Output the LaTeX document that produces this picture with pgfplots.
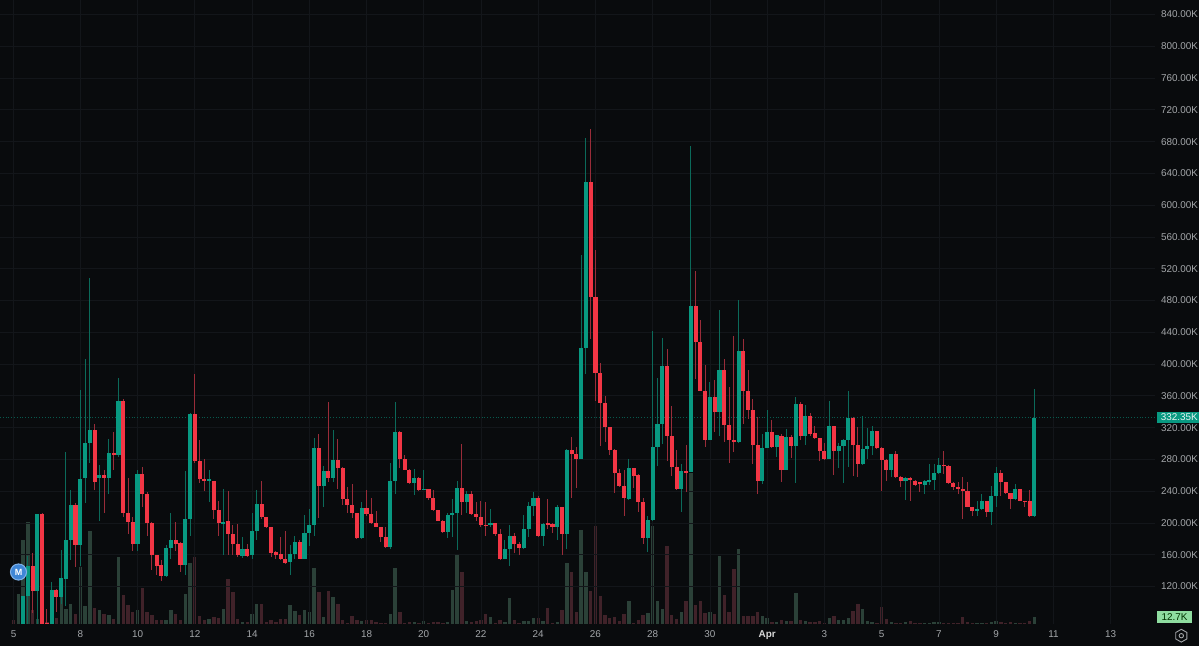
\documentclass[border=0pt]{standalone}
\usepackage{pgfplots}
\usepackage{pgfplotstable}
\usepackage{fontspec}
\setmainfont{Liberation Sans}
\pgfplotsset{compat=1.18}
\definecolor{bg}{HTML}{090B0D}
\definecolor{gridc}{HTML}{13161A}
\definecolor{upc}{HTML}{089981}
\definecolor{downc}{HTML}{F23645}
\definecolor{wup}{HTML}{0B6A5A}
\definecolor{wdown}{HTML}{9A2C39}
\definecolor{vup}{HTML}{2B4138}
\definecolor{vdown}{HTML}{402229}
\definecolor{tickc}{HTML}{A3A6A9}
\definecolor{voltag}{HTML}{8FDDA0}
\definecolor{badge}{HTML}{3F86D6}
\definecolor{badgering}{HTML}{7FB0E6}
\pgfplotstableread{
i o c h l v
1 50 60 62 48 60
2 60 108 108 58 168
3 108 146 159 73 203
5 114 211 211 73 10
8 72 116 126 70 3
10 107 131 166 98 53
11 130 179 289 96 30
12 178 222 241 153 40
14 172 255 367 146 113
15 256 301 406 225 35
16 301 317.5 508 275 185
18 256 260 273 203 28
20 256 288 306 237 17
22 285 353 383 283 133
26 174 261 266 165 28
32 133 168 172 132 7
33 168 178 213 154 28
36 147 205 265 135 60
37 205 337 339 184 121
41 253 255 266 226 9
44 199 201 243 159 30
48 159 167 182 156 3
50 160 190 213 154 19
51 190 224 242 178 39
58 151 161 172 135 37
59 161 176 184 155 25
61 155 187.5 210.5 154 28
62 187.5 197 217 171 23
63 197 294 307 184 112
65 246 265 272 220 13
67 256 279 317 251 53
73 181 219 226 180 5
79 169.5 252.5 275 167.5 19
80 252.5 315 352 236 111
84 250 257 268 235 3
86 242 243 267 241 5
91 188 210 212 181 4
92 210 212 230 182 68
93 212 244 252.5 166.5 138
95 226 236 240 212 5
100 197 200 217 195 13
103 155 167.5 178 154 3
104 167.5 184 198 146 51
107 168 192 210.5 167.5 5
108 192 221 226 182 5
109 221 231 239 209 11
111 183 199 200 171 5
114 195 220 223 178 3
116 186 292 293 167.5 122
119 281 420.5 537.7 281 188
120 420.5 629 684 388 104
129 230 269 281 229 46
133 181 204 209 164 21
134 204 295 441 203 196
135 295 324 382 272 46
136 324 398 433 299 30
140 243 265 274 214 23
142 264.5 473 675 264 302
146 305 359 378 304 23
148 340 392 468 309 135
152 302 416 480 301 150
157 253 294.4 312 249 15
158 294.4 314 342 294 11
160 296 311 311 283.5 4
162 267 308 318 267 5
164 297 350 358 250 62
166 310 335 348.5 298 5
171 281 322.5 353 280.5 12
173 291 296.5 301 269 7
174 296.5 304.5 306 250 8
175 304 332 366 270 11
178 274 293 334 273.5 30
179 293 296.5 320 280.5 5
180 296.5 316 322.5 285 3
184 267 287 287 257.5 3
187 253 256 257.5 229 4
191 248 252.5 254 237 1.5
192 252.5 254 274 248 2
193 254 262.5 274 241 3
194 262.5 273 282 262 3
202 215 217 228 209 1.5
203 217 228 237 216 1.5
205 213.5 234.5 246 198 4
206 234.5 262.5 271 220 6
210 230 243 249 229 1.5
214 209 332.35 369 208 12.7
}\upT
\pgfplotstableread{
i o c h l v
0 60 55 62 50 8
4 146 114 162 86 27
6 211 73 213 70 5
7 74 72 92 72 3
9 116 107 117 88 12
13 222 172 225 144 19
17 317.5 252 325 241 32
19 260 256 266 213 20
21 288 285 315 266 10
23 353 213 356 207 57
24 213 201 257 186 37
25 201 174 207 165 23
27 261 237 271 220 72
28 237 200 239 184 23
29 200 159 201 141 17
30 159 146 160 135 7
31 147 133 153 127 8
34 178 174 201 165 19
35 175 147 176 138 8
38 337 278 387 276 133
39 278 255 304 250 15
40 255 253 281 240 8
42 253 216 253 205 13
43 216 200 228 183 12
45 202 186 240 159 90
46 186 174 197 159 63
47 174 159 199 157 9
49 167 159 174 157 3
52 224 207 253 205 39
53 207 195 208 193 4
54 195 162 195 157 7
55 163 160 165 155 3
56 161 154 182 153 9
57 155 150 190 148.5 9
60 176 155 178 154 18
64 294 246 312 206 63
66 265 256 352 251 65
68 279 269 306 243 40
69 269 230 270 223 7
70 230 223 245 213 1.5
71 223 213 249 206 15
72 213 181 213 180 7
74 219 211 241 209 8
75 211 200 231 199 7
76 200 195 215 195 3
77 195 182 195.5 176 2
78 182 169.5 195.5 169 2
81 315 280 316 269 23
82 280 267 286 266 1.5
83 267 250 268 249 3
85 257 242 257.5 240 1.5
87 243 232 243 229 2
88 232 216 241 215 3
89 216 203 216.5 202 3
90 203 188 204 187.5 2
94 244 226 299.5 210.5 103
96 236 211 240 210 3
97 211 207 226 203 5
98 207 197 227 195 7
99 198 197 226 184 19
101 200 186 200 184 1
102 186 154 192.5 153 8
105 184 173 187 162 7
106 174 168 176 160 1.5
110 231 183 234.5 182 12
112 200 198 230 192.5 31
113 199 195 200 187.5 1.5
115 220 186 220 160 28
117 292 287 308 231 103
118 287 280.5 295 244 23
121 629 484 696 431 65
122 484 389 543 353 196
123 389 351 401 297 56
124 351 321 360 302 17
125 321 292 321 286 12
126 292 263 293 238 13
127 263 246 268 245 5
128 246 231 266 209 20
130 269 259.5 269 244 2
131 260 226 262 214 7
132 226 181 232 173 17
137 398 310 419 278 156
138 310 271 347 259.5 17
139 271 243 292 241 10
141 265 264 298 239 46
143 473 428 517 381 37
144 428 366 455 366 46
145 366 305 399 295 22
147 359 340 380 314 20
149 392 323 406 302 57
150 323 305 371 276 23
151 305 302 435 289 109
153 416 366 432 325 16
154 366 342 393 331 16
155 342 298 356 274 16
156 298 253 333 236 23
159 314 295 330 294 3
161 310 267 312 251 8
163 308 297 311 282 5
165 350 310 352 304 8
167 335 312 338 310 3
168 313 307 322.5 306 3
169 307 291 307 278.5 5
170 291 280.5 300 279 2
172 322.5 291 322.5 260 15
176 332 298 333 259 25
177 298 274 321 257.5 39
181 316 294 316 293 1.5
182 294 279 295 240 33
183 279 267 280 253 10
185 287 257.5 290 257 2
186 257.5 253 259 245 2
188 256 254 257.5 227 5
189 253 248 254.5 247 1
190 251 249 251 239 1
195 273 272 290 262 2
196 272 250 273 249 1
197 250 245 252 241 1
198 245 243 251 237 1.5
199 243 240 257.5 205 13
200 240 220 251 220 3
201 220 215 220.6 209 1.5
204 228 213.5 228 208 1.5
207 262.5 251 266 234.5 3
208 251 238 251 237 1
209 238 230 238 217 3
211 243 228 243 227 1
212 228 226 228 220 1
213 227 209 242 208 5
}\downT
\begin{document}
\begin{tikzpicture}[x=1pt,y=1pt]
\useasboundingbox (0,0) rectangle (1199,646);
\fill[bg] (0,0) rectangle (1199,646);
% volume
\begin{axis}[at={(0pt,22.5pt)},anchor=south west,width=1155pt,height=623.5pt,scale only axis,
  hide axis,xmin=-2.834,xmax=239.3,ymin=0,ymax=1247]
\addplot[ycomb,line width=3.4pt,draw=vup,mark=none] table[x=i,y=v] {\upT};
\addplot[ycomb,line width=3.4pt,draw=vdown,mark=none] table[x=i,y=v] {\downT};
\end{axis}
% price
\begin{axis}[at={(0pt,22.5pt)},anchor=south west,width=1155pt,height=623.5pt,scale only axis,
  xmin=-2.834,xmax=239.3,ymin=73.4,ymax=858.25,
  axis line style={draw=none},tick style={draw=none},
  grid=major,grid style={gridc,line width=0.7pt},
  xtick={0,14,26,38,50,62,74,86,98,110,122,134,146,158,170,182,194,206,218,230},
  xticklabels={5,8,10,12,14,16,18,20,22,24,26,28,30,{\textcolor{white!85!black}{\textbf{Apr}}},3,5,7,9,11,13},
  ytick={120,160,200,240,280,320,360,400,440,480,520,560,600,640,680,720,760,800,840},
  yticklabels={120.00K,160.00K,200.00K,240.00K,280.00K,320.00K,360.00K,400.00K,440.00K,480.00K,520.00K,560.00K,600.00K,640.00K,680.00K,720.00K,760.00K,800.00K,840.00K},
  ytick pos=right,yticklabel pos=right,
  tick label style={font=\fontsize{9.9}{11}\selectfont,text=tickc},
  yticklabel style={xshift=2.5pt},
  xticklabel style={yshift=-4pt},
  ]
\addplot[draw=upc!55!bg,dotted,line width=0.8pt,forget plot] coordinates {(-2.834,332.35) (239.3,332.35)};
\addplot[draw=none,forget plot,error bars/.cd,y dir=both,y explicit,error mark=none,
  error bar style={line width=1pt,draw=wup}]
  table[x=i,y expr={(\thisrow{h}+\thisrow{l})/2},y error expr={(\thisrow{h}-\thisrow{l})/2}] {\upT};
\addplot[draw=none,forget plot,error bars/.cd,y dir=both,y explicit,error mark=none,
  error bar style={line width=1pt,draw=wdown}]
  table[x=i,y expr={(\thisrow{h}+\thisrow{l})/2},y error expr={(\thisrow{h}-\thisrow{l})/2}] {\downT};
\addplot[draw=none,forget plot,error bars/.cd,y dir=both,y explicit,error mark=none,
  error bar style={line width=4.1pt,draw=upc}]
  table[x=i,y expr={(\thisrow{o}+\thisrow{c})/2},y error expr={abs(\thisrow{c}-\thisrow{o})/2}] {\upT};
\addplot[draw=none,forget plot,error bars/.cd,y dir=both,y explicit,error mark=none,
  error bar style={line width=4.1pt,draw=downc}]
  table[x=i,y expr={(\thisrow{o}+\thisrow{c})/2},y error expr={abs(\thisrow{c}-\thisrow{o})/2}] {\downT};
\end{axis}
% price tag
\fill[upc] (1156.7,222.7) rectangle (1199,234.3);
\node[anchor=east,text=white!90!upc,font=\fontsize{9.9}{11}\selectfont,inner sep=0pt] at (1198,228.5) {332.35K};
% volume tag
\fill[voltag] (1156.7,22.7) rectangle (1192.3,35.3);
\node[text=black!80!green,font=\fontsize{9.9}{11}\selectfont,inner sep=0pt] at (1174.5,29) {12.7K};
% M badge
\fill[badgering] (18.5,74) circle (8.6);
\fill[badge] (18.5,74) circle (7.4);
\node[text=white,font=\fontsize{9}{10}\bfseries\selectfont,inner sep=0pt] at (18.5,74) {M};
% settings icon
\draw[tickc,line width=0.9pt] (1181.3,16.7) -- ++(5.6,-3.2) -- ++(0,-6.4) -- ++(-5.6,-3.2) -- ++(-5.6,3.2) -- ++(0,6.4) -- cycle;
\draw[tickc,line width=0.9pt] (1181.3,10.3) circle (2.2);
\end{tikzpicture}
\end{document}
